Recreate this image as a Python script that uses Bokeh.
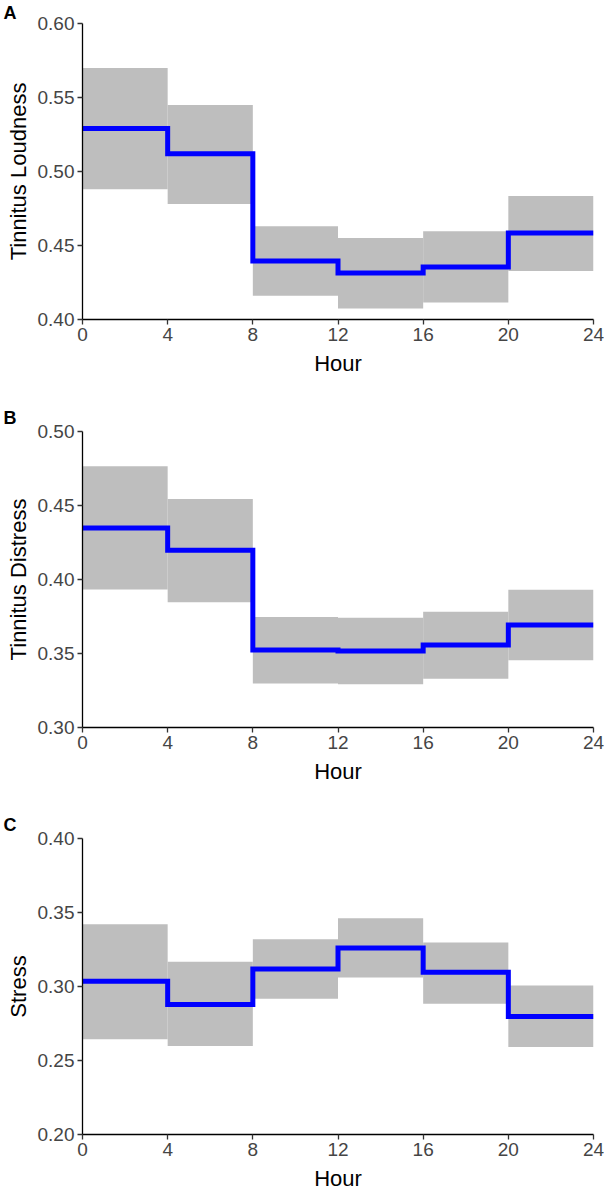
from bokeh.plotting import figure
from bokeh.models import Range1d, FixedTicker, NumeralTickFormatter, ColumnDataSource
from bokeh.layouts import column
from bokeh.embed import file_html
from bokeh.resources import INLINE

hour_edges = [0, 4, 8, 12, 16, 20, 24]
x_ticks = [0, 4, 8, 12, 16, 20, 24]

loud_mean = [0.529, 0.512, 0.4395, 0.4315, 0.4355, 0.4585]
loud_low = [0.488, 0.478, 0.416, 0.4075, 0.4115, 0.4328]
loud_high = [0.570, 0.545, 0.463, 0.455, 0.4597, 0.4835]
loud_ticks = [0.40, 0.45, 0.50, 0.55, 0.60]

dist_mean = [0.4348, 0.4198, 0.3524, 0.3517, 0.3557, 0.3692]
dist_low = [0.3933, 0.3847, 0.3297, 0.3292, 0.3330, 0.3454]
dist_high = [0.4766, 0.4544, 0.3746, 0.3742, 0.3782, 0.3930]
dist_ticks = [0.30, 0.35, 0.40, 0.45, 0.50]

stress_mean = [0.3035, 0.2879, 0.3118, 0.3260, 0.3096, 0.2798]
stress_low = [0.2643, 0.2598, 0.2918, 0.3060, 0.2884, 0.2591]
stress_high = [0.3421, 0.3168, 0.3319, 0.3461, 0.3297, 0.3006]
stress_ticks = [0.20, 0.25, 0.30, 0.35, 0.40]

FONT = "Liberation Sans"
W = 604
PLOT_H = 296
LEFT = 82
RIGHT = 11


def panel(letter, ylabel, mean, low, high, yticks, top_border, bottom_border, title_standoff):
    h = top_border + PLOT_H + bottom_border
    p = figure(width=W, height=h, output_backend="svg", toolbar_location=None,
               x_range=Range1d(0, 24), y_range=Range1d(yticks[0], yticks[-1]),
               min_border_left=LEFT, min_border_right=RIGHT,
               min_border_top=top_border, min_border_bottom=bottom_border)
    p.outline_line_color = None
    p.xgrid.visible = False
    p.ygrid.visible = False
    p.background_fill_color = "white"
    p.border_fill_color = "white"

    p.title.text = letter
    p.title.align = "left"
    p.title.offset = -LEFT + 3
    p.title.standoff = title_standoff
    p.title.text_font = FONT
    p.title.text_font_size = "18px"
    p.title.text_font_style = "bold"
    p.title.text_color = "black"

    src = ColumnDataSource(dict(left=hour_edges[:-1], right=hour_edges[1:], bottom=low, top=high))
    p.quad(left="left", right="right", bottom="bottom", top="top", source=src,
           fill_color="#BEBEBE", line_color=None)
    p.step(x=hour_edges, y=mean + [mean[-1]], mode="after", line_color="#0000FF",
           line_width=5, line_join="miter")

    for ax in (p.xaxis[0], p.yaxis[0]):
        ax.axis_line_color = "black"
        ax.axis_line_width = 1.3
        ax.major_tick_line_color = "#333333"
        ax.major_tick_line_width = 1.3
        ax.major_tick_out = 5
        ax.major_tick_in = 0
        ax.minor_tick_line_color = None
        ax.major_label_text_font = FONT
        ax.major_label_text_font_size = "19px"
        ax.major_label_text_color = "#454545"
        ax.major_label_standoff = 3
        ax.axis_label_text_font = FONT
        ax.axis_label_text_font_style = "normal"
        ax.axis_label_text_color = "black"
        ax.axis_label_text_font_size = "22px"
    p.xaxis.axis_label_standoff = 7
    p.yaxis.axis_label_standoff = 4

    p.xaxis.ticker = FixedTicker(ticks=x_ticks)
    p.yaxis.ticker = FixedTicker(ticks=yticks)
    p.yaxis.formatter = NumeralTickFormatter(format="0.00")
    p.xaxis.axis_label = "Hour"
    p.yaxis.axis_label = ylabel
    return p


pA = panel("A", "Tinnitus Loudness", loud_mean, loud_low, loud_high, loud_ticks, 23, 76, 1)
pB = panel("B", "Tinnitus Distress", dist_mean, dist_low, dist_high, dist_ticks, 36, 78, 7)
pC = panel("C", "Stress", stress_mean, stress_low, stress_high, stress_ticks, 33, 61, 7)

layout = column(pA, pB, pC, spacing=0)
open("out.html", "w").write(file_html(layout, INLINE))
